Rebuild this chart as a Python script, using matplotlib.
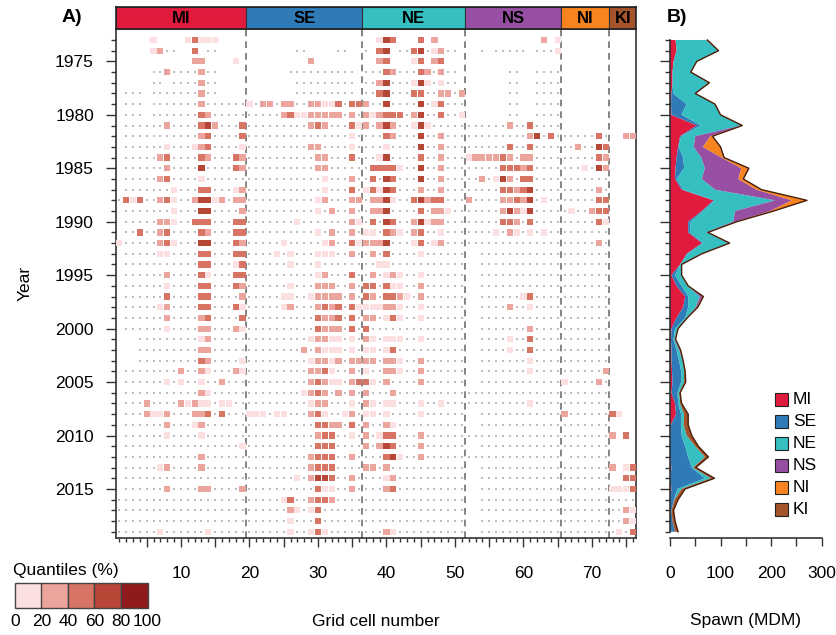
import matplotlib
matplotlib.use("Agg")
import matplotlib.pyplot as plt
from matplotlib.patches import Rectangle
import numpy as np

plt.rcParams['font.family'] = ['Liberation Sans', 'DejaVu Sans']

W, H = 837, 635

# ---------------- data ----------------
years = list(range(1973, 2020))
regions = ["MI", "SE", "NE", "NS", "NI", "KI"]
region_first = [1, 20, 37, 52, 66, 73]
region_last = [19, 36, 51, 65, 72, 76]
region_colors = ["#e01b3e", "#2f7bb8", "#35bfc0", "#964fa2", "#f7841f", "#a5532a"]

quantile_colors = ["#fcdfe0", "#eca59c", "#d87464", "#b84636", "#8f1a1c"]
quantile_edges = ["0", "20", "40", "60", "80", "100"]

# squares: "cell:quantile class"
cell_squares = [
    "6:1 11:1 12:3 13:1 14:1 15:1 39:1 40:4 41:3 45:3 47:2 63:2 65:1",
    "6:1 7:2 12:3 39:3 40:4 44:3 45:4 47:1 48:2 65:1",
    "12:2 13:2 18:1 29:2 39:2 40:3 44:1 45:3 47:2 48:3",
    "8:2 13:2 40:3 41:2 45:3 46:2 48:2",
    "13:2 39:2 40:4 44:1 45:4 46:1 48:1",
    "13:2 39:3 40:4 44:3 45:3 48:2 49:2 51:2",
    "13:2 20:1 22:2 23:2 25:2 26:2 29:2 30:2 31:1 32:1 33:3 35:3 36:3 37:2 40:4 45:4 47:1 48:3",
    "13:3 14:2 25:2 26:3 27:1 28:1 29:2 30:2 31:2 32:2 33:2 35:2 37:2 38:1 39:2 40:3 41:3 42:3 44:2 45:4 48:3 51:1",
    "8:2 13:3 14:4 15:2 19:3 29:2 30:3 31:2 35:3 36:1 37:2 39:2 40:4 41:2 44:1 45:4 46:1 58:2 61:3",
    "13:2 14:3 19:3 35:1 40:3 41:2 45:4 48:2 61:2 62:4 64:3 71:3 75:2 76:2",
    "8:1 12:1 13:2 14:3 19:1 29:2 30:2 35:1 40:1 45:4 48:2 58:3 61:3 68:2 71:4 72:3",
    "7:2 8:3 13:3 14:2 18:3 19:2 30:2 31:2 35:3 39:1 40:4 45:3 48:2 52:1 53:2 54:2 55:2 56:2 57:3 58:2 60:2 61:2 71:3 72:2",
    "8:2 13:4 18:3 19:2 30:2 31:2 38:3 39:3 40:3 41:3 42:1 45:4 48:2 57:3 58:3 59:3 60:2 61:3 69:1 71:4 72:2",
    "7:2 8:3 13:1 31:1 35:2 38:3 40:4 41:3 45:4 48:2 54:2 56:1 57:4 58:2 60:3 61:3",
    "9:1 13:3 14:3 18:1 19:2 31:1 35:3 37:1 38:3 39:1 40:4 41:3 45:2 48:2 57:3 58:3 59:2 60:3 61:4 71:2",
    "2:3 3:1 4:3 7:2 8:3 9:1 12:2 13:4 14:4 15:1 16:2 18:2 19:2 30:1 31:2 35:2 36:2 38:2 39:2 40:4 41:1 44:3 45:4 46:2 47:3 48:3 52:2 57:2 58:2 59:3 60:2 61:4 63:1 71:3 72:3",
    "9:1 13:4 14:4 19:2 30:1 32:2 35:2 38:2 39:2 40:4 45:3 47:2 48:2 49:1 57:2 58:4 59:2 60:1 61:4 67:1 70:2 71:3 72:3",
    "7:2 8:2 9:1 12:3 13:3 14:3 18:3 19:3 27:1 35:2 36:1 38:3 40:4 41:3 44:2 45:4 46:1 47:2 48:2 57:3 58:3 59:2 61:3 71:3 72:1",
    "4:3 7:2 8:3 13:3 14:2 18:3 19:3 30:1 32:2 35:2 37:1 38:1 40:3 41:2 42:1 44:2 45:3 48:1 56:1 58:2 59:1 61:1 63:1",
    "1:1 7:2 8:3 9:1 13:4 14:4 18:3 19:2 25:1 31:1 32:2 35:3 36:1 37:2 38:2 39:2 40:4 44:1 45:3 47:1 48:2 71:2",
    "7:1 8:1 13:3 14:3 18:3 19:3 24:1 26:1 30:1 31:1 32:1 35:2 38:2 40:3 45:1",
    "13:3 14:3 18:1 19:3 26:1 30:1 39:1 40:1",
    "8:2 13:3 14:1 18:3 19:3 30:1 31:2 35:3 38:2 40:1 41:2 42:1 45:1",
    "8:1 13:3 14:3 18:3 19:2 26:1 30:2 31:2 32:2 35:2 37:3 38:3 40:3 41:1 42:1 45:2",
    "8:3 13:3 14:3 19:2 25:1 26:1 29:1 30:2 31:2 32:2 33:2 35:2 37:3 38:2 40:3 41:3 42:2 43:1 45:2 60:1 61:3",
    "7:1 8:2 13:3 14:3 18:3 19:1 25:1 26:2 30:2 31:3 32:2 33:3 35:3 36:1 37:1 38:1 39:1 40:2 41:2 42:1 45:1 58:2 61:1",
    "8:2 13:2 14:3 19:3 30:3 31:2 32:2 33:3 35:3 37:2 38:2 40:1 41:3 42:1 45:1",
    "8:1 13:2 14:2 18:2 19:1 30:3 31:2 32:2 33:2 35:3 37:3 61:2",
    "13:1 14:2 29:1 30:2 31:2 32:1 33:1 35:1 37:2 38:1 40:1 41:1 42:1 45:1 58:1 61:3",
    "13:2 14:2 28:2 30:2 31:1 32:1 33:1 35:1 37:1 38:1 40:1 41:3 58:1 61:3",
    "13:3 14:2 19:1 29:1 30:2 31:2 32:1 33:2 35:2 36:2 37:2 38:2 40:2 41:2 42:1 45:2 61:1",
    "10:2 13:2 14:1 18:2 19:1 29:2 30:2 31:3 32:1 35:2 37:1 40:2 41:2 42:1 45:2 61:1 72:2",
    "8:1 10:1 13:1 16:2 29:2 30:3 31:2 32:1 33:1 35:2 36:3 37:3 38:1 40:2 45:2 66:1 71:2",
    "13:2 14:1 28:1 29:2 30:3 31:2 33:2 35:2 37:2 41:2",
    "5:2 10:2 11:1 12:2 13:1 14:1 16:1 17:1 29:1 30:2 31:2 35:1 37:2 38:1 40:1 41:1 45:1 48:1 61:1",
    "5:2 6:1 7:1 8:2 12:2 13:2 14:3 16:3 20:1 21:1 22:1 24:1 25:1 29:2 30:3 31:1 34:1 35:2 37:1 38:1 40:1 45:1 66:2 73:3 74:1",
    "8:2 12:1 13:2 30:3 31:3 32:2 33:2 35:3 37:2 40:2 41:1",
    "8:1 13:1 30:2 31:3 32:3 35:1 37:2 39:1 40:3 41:3 45:2 73:2 75:3",
    "19:1 30:3 31:3 32:3 37:2 39:2 40:4 41:3 45:2",
    "13:2 29:2 30:3 31:3 32:3 35:2 40:3 41:4 42:1 45:2",
    "7:1 8:2 13:2 29:2 30:3 31:3 32:3 37:2 38:2 40:2 73:2 75:1 76:3",
    "27:1 29:2 30:4 31:4 32:3 35:2 40:1 41:2 75:3 76:3",
    "8:2 13:2 14:2 19:2 30:3 31:1 32:1 35:2 40:2 41:3 73:1 74:1 75:1 76:3",
    "25:1 26:3 29:2 30:3 31:3 32:2",
    "26:2 27:1 29:1 30:3 75:2 76:1",
    "26:1 30:3 75:2 76:1",
    "7:1 14:1 26:1 29:1 30:3 31:1 40:2 41:1 74:1 76:3",
]

# surveyed cells without spawn (grey dots)
cell_dots = [
    "",
    "8-9 14-15 27-28 33-34 37 42-43 46 49-50 54 56-60 62-64",
    "",
    "6-7 9-12 14-15 26-35 37-39 42-44 47 49-50 58-59 62-65",
    "6-7 9-12 14-15 27-35 37-38 41-43 47 49-50 58-59 62-65",
    "2-4 6-12 14-15 27-35 37-38 41-43 46-47 50 58-59 62-65",
    "2-4 6-12 14-19 21 24 27-28 34 38-39 41-44 46 49-51 58-59 62-65",
    "2-4 6-12 15-24 34 36 43 46-47 49-50 58-59 62-65",
    "2-7 9-12 16-18 20-28 32-34 38 42-43 47-57 59-60 62-65",
    "2-12 15-18 20-34 36-39 42-44 46-47 49-60 63 65-70 72",
    "2-7 9-11 15-18 20-28 31-34 36-39 41-44 46-47 49-57 59-60 62-67 69-70",
    "2-6 9-12 15-17 20-29 32-34 36-38 41-44 46-47 49-51 59 62-70",
    "2-7 9-12 14-17 20-29 32-37 43-44 46-47 49-56 62-68 70",
    "2-6 9-12 14-30 32-34 36-37 39 42-44 46-47 49-53 55 59 62-72",
    "2-8 10-12 15-17 20-30 32-34 36 42-44 46-47 49-56 62-70 72",
    "1 5-6 10-11 17 20-29 32-34 37 42-43 49-51 53-56 62 64-70",
    "2-8 10-12 15-18 20-29 31 33-34 36-37 41-44 46 50-56 62-66 68-69",
    "2-6 10-11 15-17 20-26 28-34 37 39 42-43 49-56 60 62-70",
    "2-3 5-6 9-12 15-17 20-29 31 33-34 36 39 43 46-47 49-55 57 60 62 64-72",
    "2-6 10-12 15-17 20-24 26-30 33-34 41-43 46 49-70 72",
    "2-6 9-12 15-17 20-23 25 27-29 33-34 36-37 39 41-44 46-51 54-72",
    "2-12 15-17 20-25 27-29 31-38 41-51 54-72",
    "2-7 9-12 15-17 20-29 32-34 36-37 39 43-44 46-51 54-72",
    "2-7 9-12 15-17 20-25 27-29 33-34 36 39 43-44 46-51 54-72",
    "2-7 9-12 15-18 20-24 27-28 34 36 39 44 46-51 54-59 62-72",
    "2-6 9-12 15-17 20-24 27-29 34 43-44 46-51 54-57 59-60 62-72",
    "2-7 9-12 15-18 20-29 34 36 39 43-44 46-51 54-72",
    "2-7 9-12 15-17 20-29 34 36 38-51 54-60 62-72",
    "4-12 15-28 34 36 39 43-44 46-51 54-57 59-60 62-72",
    "4-12 15-27 29 34 36 39 42-51 54-57 59-60 62-72",
    "4-12 15-18 20-28 34 39 43-44 46-51 54-60 62-72",
    "2-9 11-12 15-17 20-28 33-34 36 38-39 43-44 46-51 54-60 62-71",
    "2-7 9 11-12 14-15 17-28 34 39 41-44 46-51 54-65 67-70 72",
    "2-12 15-27 32 34 36 38-40 42-72",
    "2-4 6-9 15 18-28 32-34 36 39 42-44 46-47 49-60 62-72",
    "2-4 9-11 15 17-19 23 26-28 32-33 36 39 41-44 46-51 54-65 67-72",
    "2-7 9-11 14-29 34 36 38-39 42-51 54-72",
    "2-7 9-12 14-29 33-34 36 38 42-44 46-72",
    "2-18 20-29 33-36 38 42-44 46-51 54-72",
    "2-12 14-28 33-34 36-39 43-44 46-65 67-72",
    "2-6 9-12 14-28 33-36 39 41-51 54-72",
    "2-26 28 33-34 36-39 42-51 54-72",
    "2-7 9-12 15-18 20-29 33-34 36-39 42-51 54-72",
    "1-24 27-28 33-51 54-76",
    "1-25 28 31-51 54-74",
    "1-25 27-29 31-51 54-74",
    "1-6 8-13 15-25 27-28 32-39 42-51 54-73 75",
]

# spawn (MDM) by region, 1973-2019
spawn_MI = [11, 13, 7, 5, 5, 3, 2, 3, 53, 20,
            16, 13, 11, 10, 23, 86, 63, 36, 36, 63,
            33, 20, 3, 13, 30, 26, 13, 3, 2, 3,
            3, 4, 5, 3, 10, 12, 2, 0, 0, 0,
            3, 0, 3, 0, 0, 0, 0]
spawn_SE = [0, 0, 0, 0, 0, 3, 31, 20, 8, 2,
            1, 13, 17, 3, 3, 2, 3, 5, 3, 3,
            2, 0, 7, 10, 6, 10, 17, 7, 5, 10,
            15, 18, 17, 12, 6, 10, 20, 23, 30, 36,
            40, 69, 12, 8, 3, 5, 10]
spawn_NE = [60, 82, 45, 35, 71, 43, 55, 76, 80, 28,
            30, 36, 41, 50, 63, 120, 63, 84, 33, 50,
            26, 2, 12, 12, 23, 15, 3, 5, 2, 5,
            7, 6, 6, 3, 4, 6, 5, 10, 20, 33,
            3, 12, 8, 1, 0, 0, 0]
spawn_NS = [1, 0, 0, 0, 0, 0, 0, 0, 1, 30,
            18, 40, 72, 72, 82, 33, 69, 5, 2, 1,
            1, 0, 0, 0, 5, 2, 0, 0, 1, 2,
            0, 0, 0, 0, 0, 0, 0, 0, 0, 0,
            0, 0, 0, 0, 0, 0, 0]
spawn_NI = [0, 0, 0, 0, 0, 0, 0, 0, 0, 3,
            33, 3, 13, 8, 9, 28, 5, 1, 0, 0,
            0, 0, 0, 0, 0, 0, 0, 0, 0, 0,
            0, 0, 0, 0, 0, 0, 0, 0, 0, 0,
            0, 0, 0, 0, 0, 0, 0]
spawn_KI = [2, 1, 1, 1, 2, 1, 1, 1, 1, 1,
            2, 2, 2, 2, 1, 2, 2, 1, 1, 1,
            1, 1, 1, 1, 2, 2, 1, 1, 1, 1,
            1, 2, 3, 2, 3, 8, 9, 10, 6, 7,
            5, 7, 7, 7, 4, 5, 6]


def parse_squares(s):
    out = []
    for tok in s.split():
        c, q = tok.split(":")
        out.append((int(c), int(q)))
    return out


def parse_ranges(s):
    out = []
    for tok in s.split():
        if "-" in tok:
            a, b = tok.split("-")
            out.extend(range(int(a), int(b) + 1))
        else:
            out.append(int(tok))
    return out


def fx(x):
    return x / W


def fy(y):
    return 1 - y / H


fig = plt.figure(figsize=(W / 100, H / 100), dpi=100)

LEFT, RIGHT = 115.85, 636.5
TOP, BOT = 29.3, 537.5
YLIM = (2019.54, 1972.0)
FS = 12.5
SPINE = "#333333"

# ---------------- panel A ----------------
axA = fig.add_axes([fx(LEFT), fy(BOT), (RIGHT - LEFT) / W, (BOT - TOP) / H])
axA.set_xlim(0.5, 76.5)
axA.set_ylim(*YLIM)

dot_x, dot_y = [], []
sq_x, sq_y, sq_c = [], [], []
for yr, sq, dt in zip(years, cell_squares, cell_dots):
    sqs = parse_squares(sq)
    taken = {c for c, _ in sqs}
    for c in parse_ranges(dt):
        if c not in taken:
            dot_x.append(c)
            dot_y.append(yr)
    for c, q in sqs:
        sq_x.append(c)
        sq_y.append(yr)
        sq_c.append(quantile_colors[q - 1])

axA.scatter(dot_x, dot_y, s=1.6, marker="s", c="#bdbdbd", linewidths=0, zorder=2)
axA.scatter(sq_x, sq_y, s=20, marker="s", c=sq_c, linewidths=0, zorder=3)

for last in region_last[:-1]:
    axA.axvline(last + 0.5, color="#707070", lw=1.2, ls=(0, (4, 3)), zorder=1)

axA.set_yticks(range(1975, 2016, 5))
axA.set_yticks(years, minor=True)
axA.set_xticks(range(5, 76, 5))
axA.set_xticklabels([str(v) if v % 10 == 0 else "" for v in range(5, 76, 5)])
axA.set_xticks(range(1, 77), minor=True)
axA.tick_params(axis="y", which="major", length=7.2, width=1, pad=8.6,
                labelsize=FS, color=SPINE)
axA.tick_params(axis="y", which="minor", length=3.6, width=1, color=SPINE)
axA.tick_params(axis="x", which="major", length=6.5, width=1, pad=14,
                labelsize=FS, color=SPINE)
axA.tick_params(axis="x", which="minor", length=3.0, width=1, color=SPINE)
for sp in axA.spines.values():
    sp.set_color(SPINE)
    sp.set_linewidth(1.2)

# header with regions
axH = fig.add_axes([fx(LEFT), fy(TOP), (RIGHT - LEFT) / W, (TOP - 7) / H])
axH.set_xlim(0.5, 76.5)
axH.set_ylim(0, 1)
for name, a, b, col in zip(regions, region_first, region_last, region_colors):
    axH.add_patch(Rectangle((a - 0.5, 0), b - a + 1, 1, facecolor=col,
                            edgecolor="#333333", lw=0.8))
    axH.text((a + b) / 2, 0.47, name, ha="center", va="center",
             fontsize=12, fontweight="bold", color="black")
axH.set_xticks([])
axH.set_yticks([])
for sp in axH.spines.values():
    sp.set_color("#222222")
    sp.set_linewidth(1.2)

# ---------------- panel B ----------------
BL, BR = 670.0, 821.7
axB = fig.add_axes([fx(BL), fy(BOT), (BR - BL) / W, (BOT - TOP) / H])
axB.set_xlim(0, 300)
axB.set_ylim(*YLIM)

series = [spawn_MI, spawn_SE, spawn_NE, spawn_NS, spawn_NI, spawn_KI]
base = np.zeros(len(years))
for vals, col in zip(series, region_colors):
    top = base + np.array(vals, dtype=float)
    axB.fill_betweenx(years, base, top, facecolor=col, edgecolor="none", lw=0)
    base = top
axB.plot(base, years, color="#4a1f08", lw=1.0)

axB.set_yticks(range(1975, 2016, 5))
axB.set_yticks(years, minor=True)
axB.set_yticklabels([])
axB.set_xticks([0, 100, 200, 300])
axB.set_xticks([50, 150, 250], minor=True)
axB.tick_params(axis="y", which="major", length=7.2, width=1, color=SPINE)
axB.tick_params(axis="y", which="minor", length=3.6, width=1, color=SPINE)
axB.tick_params(axis="x", which="both", length=6.0, width=1, pad=14.4,
                labelsize=FS, color=SPINE)
axB.spines["top"].set_visible(False)
axB.spines["right"].set_visible(False)
axB.spines["left"].set_bounds(1973, 2019)
axB.spines["bottom"].set_bounds(0, 300)
for k in ("left", "bottom"):
    axB.spines[k].set_color(SPINE)
    axB.spines[k].set_linewidth(1.2)

# region legend (panel B)
for i, (name, col) in enumerate(zip(regions, region_colors)):
    yc = 399.3 + 22.1 * i
    fig.patches.append(Rectangle((fx(775), fy(yc + 6.5)), 13 / W, 13 / H,
                                 transform=fig.transFigure, facecolor=col,
                                 edgecolor="#222222", lw=0.8))
    fig.text(fx(793), fy(yc), name, ha="left", va="center", fontsize=FS)

# ---------------- texts ----------------
fig.text(fx(72), fy(18), "A)", ha="center", va="center", fontsize=14,
         fontweight="bold")
fig.text(fx(677), fy(18), "B)", ha="center", va="center", fontsize=14,
         fontweight="bold")
fig.text(fx(25), fy(283), "Year", rotation=90, ha="center", va="center",
         fontsize=FS)
fig.text(fx(376), fy(621), "Grid cell number", ha="center", va="center",
         fontsize=FS)
fig.text(fx(746), fy(621), "Spawn (MDM)", ha="center", va="center",
         fontsize=FS)

# quantile legend
fig.text(fx(13), fy(571), "Quantiles (%)", ha="left", va="center", fontsize=FS)
bw = 26.5
for i, col in enumerate(quantile_colors):
    fig.patches.append(Rectangle((fx(15 + bw * i), fy(608.3)), bw / W,
                                 25.6 / H, transform=fig.transFigure,
                                 facecolor=col, edgecolor="#444444", lw=1.0))
for i, lab in enumerate(quantile_edges):
    fig.text(fx(15 + bw * i), fy(621.7), lab, ha="center", va="center",
             fontsize=FS)

fig.savefig("out.png", dpi=100)
